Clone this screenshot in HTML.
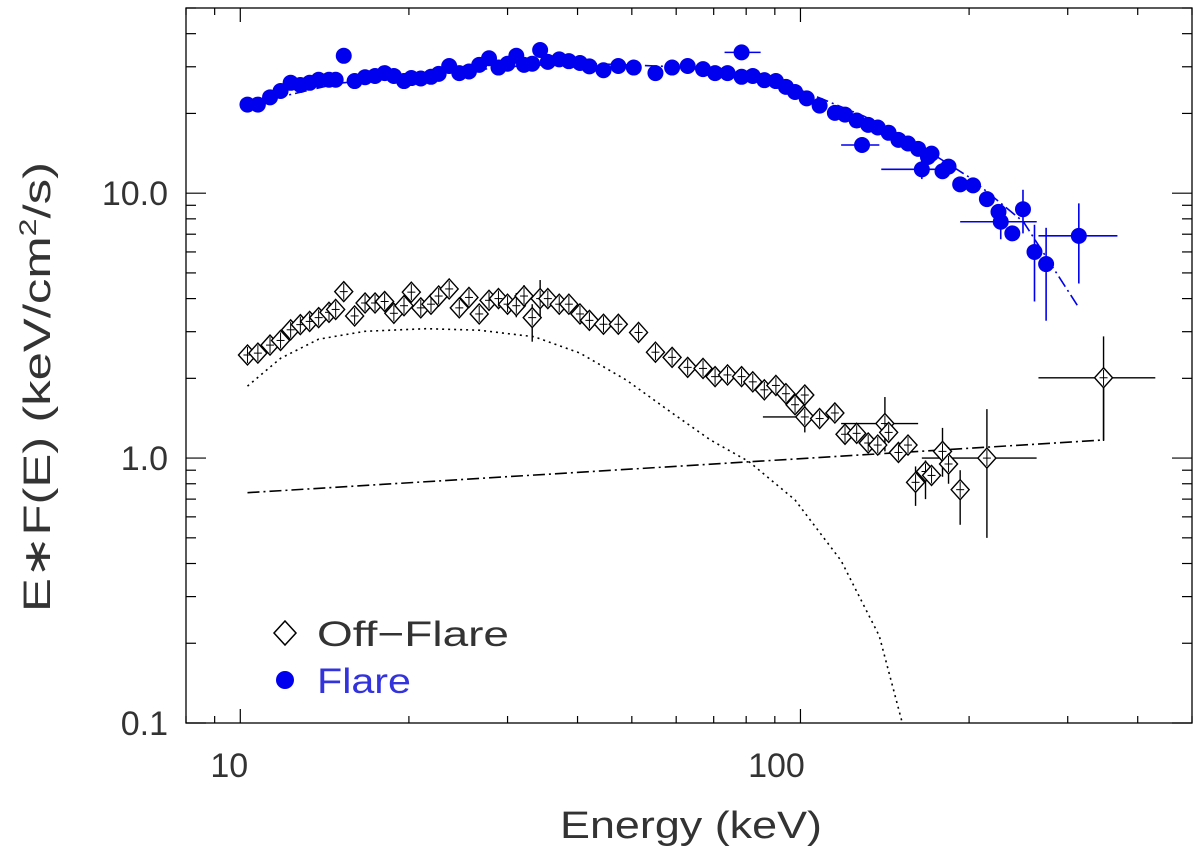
<!DOCTYPE html>
<html><head><meta charset="utf-8"><style>
body{margin:0;background:#fff;}
svg text{font-family:"Liberation Sans",sans-serif;}
</style></head><body>
<svg id="chart" width="1200" height="852" xmlns="http://www.w3.org/2000/svg"></svg>
<script>
// ---- data ----
const flareE=[10.3,10.75,11.3,11.8,12.3,12.8,13.3,13.8,14.4,14.8,15.3,16.0,16.7,17.4,18.1,18.8,19.6,20.2,21.0,21.9,22.6,23.6,24.6,25.6,26.7,27.8,28.9,30.0,31.1,32.1,33.2,34.3,35.4,37.1,38.6,40.4,42.0,44.5,47.3,50.4,55.1,59.0,62.9,67.0,70.4,74.1,78.5,78.5,82.2,86.2,90.4,94.2,97.8,102.6,108.2,115.2,120.1,126.0,132.1,137.4,128.8,143.7,149.6,155.6,162.2,168.9,164.7,171.4,179.3,183.8,192.8,203.3,215.2,225.7,227.8,238.9,249.6,261.7,274.5,314];
const flareV=[21.6,21.6,23.0,24.3,26.1,25.6,26.1,26.8,26.8,26.8,33.0,26.5,27.4,27.7,28.4,27.7,26.5,27.2,27.1,27.5,28.2,30.2,28.4,28.8,30.5,32.3,29.8,30.8,33.0,30.5,30.8,34.7,31.3,32.0,31.5,31.0,30.1,29.1,30.2,29.8,28.4,29.8,30.2,29.4,28.4,28.4,34.0,27.5,27.7,26.7,26.5,25.2,24.1,22.8,21.4,20.1,19.8,18.8,18.1,17.7,15.2,16.9,15.9,15.4,14.7,13.7,12.3,14.1,12.1,12.6,10.8,10.7,9.5,8.5,7.8,7.05,8.7,6.0,5.4,6.9];
const flareErrE=[78.5,128.8,164.7,227.8,249.6,261.7,274.5,314];
const flareErrV=[34.0,15.2,12.3,7.8,8.7,6.0,5.4,6.9];
const flareErrElo=[73.2,118.2,139.4,192.8,249.6,261.7,274.5,266];
const flareErrEhi=[84.9,138.3,189.7,264.1,249.6,261.7,274.5,368];
const flareErrVlo=[34.0,14.6,11.3,6.7,7.05,3.9,3.3,4.56];
const flareErrVhi=[34.0,15.8,13.3,8.9,10.3,7.6,7.4,9.15];
const flareModelE=[10.5,15,20,30,40,60,80,100,130,160,200,250,314];
const flareModelV=[21.8,26,27.5,30,31,30,28,24.5,19.5,15.5,11.5,7.8,3.7];

const offE=[10.3,10.75,11.3,11.8,12.3,12.8,13.3,13.8,14.4,14.8,15.3,16.0,16.7,17.4,18.1,18.8,19.6,20.2,21.0,21.9,22.6,23.6,24.6,25.6,26.7,27.8,28.9,30.0,31.1,32.1,33.2,34.3,35.4,37.1,38.6,40.4,42.0,44.5,47.3,51.4,55.1,59.0,62.9,67.0,70.4,74.1,78.5,82.2,86.2,90.4,94.2,97.8,101.8,101.8,108.2,115.2,120.1,126.0,132.1,137.4,141.5,143.7,149.6,155.6,160.5,167.2,171.4,179.3,183.8,192.8,215.2,347.6];
const offV=[2.45,2.49,2.67,2.78,3.05,3.19,3.28,3.39,3.55,3.64,4.25,3.44,3.85,3.85,3.90,3.52,3.76,4.23,3.69,3.81,4.09,4.35,3.69,4.04,3.50,3.94,4.00,3.81,3.76,4.09,3.39,4.00,4.00,3.81,3.81,3.50,3.31,3.20,3.20,2.98,2.51,2.40,2.20,2.18,2.03,2.06,2.03,1.94,1.81,1.88,1.75,1.59,1.73,1.43,1.41,1.48,1.23,1.24,1.14,1.12,1.35,1.25,1.05,1.12,0.81,0.89,0.86,1.06,0.95,0.76,1.00,2.01];
const offErrE=[27.8,31.1,32.1,33.2,34.3,101.8,141.5,160.5,167.2,179.3,183.8,192.8,215.2,347.6];
const offErrV=[3.94,3.76,4.09,3.39,4.00,1.43,1.35,0.81,0.89,1.06,0.95,0.76,1.00,2.01];
const offErrElo=[27.8,31.1,32.1,33.2,34.3,85.7,118.2,160.5,167.2,179.3,183.8,192.8,164.7,266];
const offErrEhi=[27.8,31.1,32.1,33.2,34.3,118.2,162.2,160.5,167.2,179.3,183.8,192.8,264,430];
const offErrVlo=[3.6,3.4,3.8,2.75,3.4,1.25,1.06,0.66,0.7,0.85,0.8,0.56,0.50,1.16];
const offErrVhi=[4.3,4.2,4.5,3.81,4.7,1.6,1.70,0.93,0.98,1.3,1.1,0.9,1.53,2.88];
const bbE=[10.3,11.8,13.8,16.7,21.5,26.7,33.5,40.4,48.9,59.0,69.1,80.9,97.8,118.2,138.3,152];
const bbV=[1.87,2.38,2.81,3.01,3.08,3.04,2.87,2.49,1.97,1.48,1.17,0.97,0.695,0.41,0.213,0.1];
const plE=[10.3,347.6];
const plV=[0.74,1.17];
const xTickLabels=["10","100"];
const xTickVals=[10,100];
const yTickLabels=["0.1","1.0","10.0"];
const yTickVals=[0.1,1,10];

// ---- axes ----
const L=186,R=1192,T=8,B=723;
const XMIN=8,XMAX=500,YMIN=0.1,YMAX=50;
function sx(e){return L+(Math.log10(e)-Math.log10(XMIN))/(Math.log10(XMAX)-Math.log10(XMIN))*(R-L);}
function sy(v){return B-(Math.log10(v)-Math.log10(YMIN))/(Math.log10(YMAX)-Math.log10(YMIN))*(B-T);}
const svg=document.getElementById('chart');
const NS="http://www.w3.org/2000/svg";
function mk(tag,attrs,parent){const e=document.createElementNS(NS,tag);for(const k in attrs)e.setAttribute(k,attrs[k]);(parent||svg).appendChild(e);return e;}

const frame=mk('rect',{x:L,y:T,width:R-L,height:B-T,fill:'none',stroke:'#000','stroke-width':1.3});



const ticks=mk('g',{stroke:'#000','stroke-width':1.2});


const xt=[8,9,10,20,30,40,50,60,70,80,90,100,200,300,400,500];
xt.forEach(v=>{const x=sx(v);const len=(v===10||v===100)?14:7;
 mk('line',{x1:x,y1:B,x2:x,y2:B-len},ticks);mk('line',{x1:x,y1:T,x2:x,y2:T+len},ticks);});
const yt=[0.1,0.2,0.3,0.4,0.5,0.6,0.7,0.8,0.9,1,2,3,4,5,6,7,8,9,10,20,30,40,50];
yt.forEach(v=>{const y=sy(v);const len=(v===0.1||v===1||v===10)?20:10;
 mk('line',{x1:L,y1:y,x2:L+len,y2:y},ticks);mk('line',{x1:R,y1:y,x2:R-len,y2:y},ticks);});

const xLabelShift=[-11,-24];
xTickVals.forEach((v,i)=>{const t=mk('text',{x:sx(v)+xLabelShift[i],y:777,'text-anchor':'middle','font-size':34,fill:'#333'});t.textContent=xTickLabels[i];
 
 });
yTickVals.forEach((v,i)=>{const t=mk('text',{x:168,y:sy(v)+12,'text-anchor':'end','font-size':34,fill:'#333'});t.textContent=yTickLabels[i];
 
 });
const xtitle=mk('text',{x:560,y:838,'font-size':38,fill:'#333',textLength:262,lengthAdjust:'spacingAndGlyphs'});xtitle.textContent='Energy (keV)';


const ytitle=mk('text',{x:0,y:0,'font-size':38,fill:'#333',transform:'translate(50,612) rotate(-90)',textLength:450,lengthAdjust:'spacingAndGlyphs'});
ytitle.innerHTML='E∗F(E) (keV/cm<tspan font-size="24" dy="-14">2</tspan><tspan dy="14">/s)</tspan>';



function poly(E,V,attrs,name){const d=E.map((e,i)=>(i?'L':'M')+sx(e).toFixed(1)+','+sy(V[i]).toFixed(1)).join('');
 const p=mk('path',Object.assign({d:d,fill:'none'},attrs));return p;}

// models
poly(bbE,bbV,{stroke:'#000','stroke-width':1.6,'stroke-dasharray':'2,4'},'blackbody-model-line');
poly(plE,plV,{stroke:'#000','stroke-width':1.6,'stroke-dasharray':'12,4,2,4'},'power-law-model-line');
const pv=mk('line',{x1:sx(plE[1]),y1:sy(plV[1]),x2:sx(plE[1]),y2:sy(2.01),stroke:'#000','stroke-width':1.4});


poly(flareModelE,flareModelV,{stroke:'#0000ee','stroke-width':1.6,'stroke-dasharray':'12,4,2,4'},'flare-model-line');

// off-flare
const offG=mk('g',{stroke:'#000','stroke-width':1.4,fill:'none'});


offErrE.forEach((e,i)=>{const x=sx(e),y=sy(offErrV[i]);
 mk('line',{x1:sx(offErrElo[i]),y1:y,x2:sx(offErrEhi[i]),y2:y},offG);
 mk('line',{x1:x,y1:sy(offErrVlo[i]),x2:x,y2:sy(offErrVhi[i])},offG);});
offE.forEach((e,i)=>{const x=sx(e),y=sy(offV[i]);
 const d=mk('path',{d:`M${x},${y-10}L${x+9},${y}L${x},${y+10}L${x-9},${y}Z`,fill:'#fff'},offG);
 
 
 mk('line',{x1:x,y1:y-8,x2:x,y2:y+8,'stroke-width':1},offG);
 mk('line',{x1:x-4,y1:y,x2:x+4,y2:y,'stroke-width':1},offG);});

// flare
const flG=mk('g',{stroke:'#0000ee','stroke-width':1.6,fill:'#0000ee'});


flareErrE.forEach((e,i)=>{const x=sx(e),y=sy(flareErrV[i]);
 mk('line',{x1:sx(flareErrElo[i]),y1:y,x2:sx(flareErrEhi[i]),y2:y},flG);
 mk('line',{x1:x,y1:sy(flareErrVlo[i]),x2:x,y2:sy(flareErrVhi[i])},flG);});
flareE.forEach((e,i)=>{const c=mk('circle',{cx:sx(e),cy:sy(flareV[i]),r:8,stroke:'none'},flG);
 
 });

// legend
const lg=mk('g',{});


const l1=mk('path',{d:'M285,621L296,633L285,645L274,633Z',fill:'none',stroke:'#000','stroke-width':1.5},lg);


const t1=mk('text',{x:317,y:646,'font-size':35,fill:'#333',textLength:192,lengthAdjust:'spacingAndGlyphs'},lg);t1.textContent='Off−Flare';


const l2=mk('circle',{cx:285,cy:680,r:9,fill:'#0000ee'},lg);


const t2=mk('text',{x:317,y:693,'font-size':35,fill:'#3333dd',textLength:94,lengthAdjust:'spacingAndGlyphs'},lg);t2.textContent='Flare';


</script>
</body></html>
